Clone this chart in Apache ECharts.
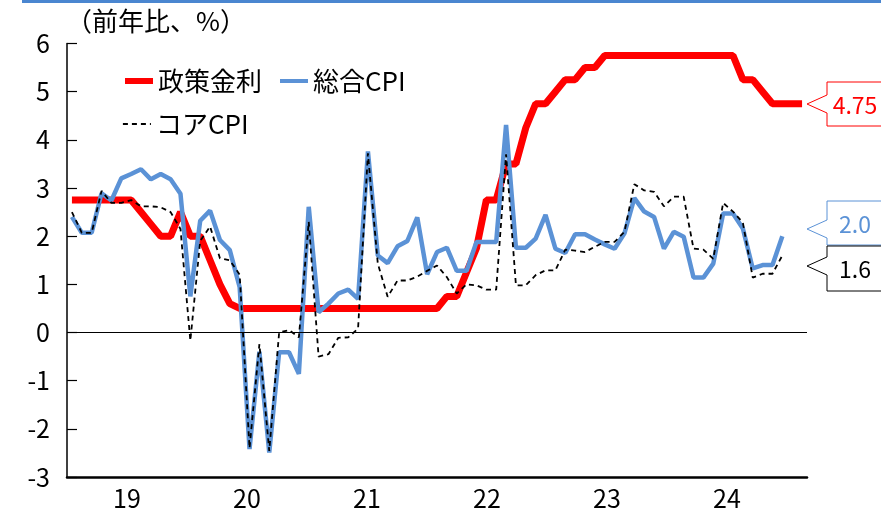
<!DOCTYPE html>
<html lang="ja">
  <head>
    <meta charset="UTF-8" />
    <title>政策金利とCPI</title>
    <script src="https://cdn.jsdelivr.net/npm/echarts@6/dist/echarts.min.js"></script>
    <style>
      body { margin: 0; background: #fff; }
    </style>
  </head>
  <body>
    <div id="main" style="width: 881px; height: 517px"></div>
    <script type="text/javascript">
      // data months: 2019-01 .. 2025-03
      const months = [];
      for (let y = 2019; y <= 2025; y++) {
        for (let m = 1; m <= 12; m++) {
          if (y === 2025 && m > 3) break;
          months.push(y + '-' + (m < 10 ? '0' + m : m));
        }
      }
      // slots used only for the year ticks / labels along the bottom
      const tickSlots = months.slice(0, 74);
      const yearLabels = ['19', '20', '21', '22', '23', '24'];

      const policyRate = [
        2.75, 2.75, 2.75, 2.75, 2.75, 2.75, 2.75, 2.5, 2.25, 2.0, 2.0, 2.5,
        2.0, 2.0, 1.5, 1.0, 0.6, 0.5, 0.5, 0.5, 0.5, 0.5, 0.5, 0.5,
        0.5, 0.5, 0.5, 0.5, 0.5, 0.5, 0.5, 0.5, 0.5, 0.5, 0.5, 0.5,
        0.5, 0.5, 0.75, 0.75, 1.25, 1.75, 2.75, 2.75, 3.5, 3.5, 4.25, 4.75,
        4.75, 5.0, 5.25, 5.25, 5.5, 5.5, 5.75, 5.75, 5.75, 5.75, 5.75, 5.75,
        5.75, 5.75, 5.75, 5.75, 5.75, 5.75, 5.75, 5.75, 5.25, 5.25, 5.0, 4.75,
        4.75, 4.75, 4.75
      ];
      const headlineCpi = [
        2.4, 2.07, 2.07, 2.89, 2.74, 3.2, 3.29, 3.39, 3.18, 3.29, 3.18, 2.88,
        0.75, 2.32, 2.53, 1.92, 1.71, 0.94, -2.42, -0.4, -2.49, -0.41, -0.41, -0.86,
        2.61, 0.42, 0.6, 0.81, 0.89, 0.7, 3.76, 1.6, 1.44, 1.79, 1.9, 2.39,
        1.21, 1.67, 1.76, 1.28, 1.28, 1.88, 1.88, 1.88, 4.31, 1.76, 1.76, 1.95,
        2.44, 1.74, 1.65, 2.04, 2.04, 1.93, 1.83, 1.74, 2.06, 2.79, 2.51, 2.4,
        1.74, 2.09, 1.99, 1.14, 1.14, 1.43, 2.47, 2.47, 2.16, 1.33, 1.4, 1.4,
        2.0
      ];
      const coreCpi = [
        2.5, 2.07, 2.07, 2.94, 2.69, 2.69, 2.75, 2.62, 2.62, 2.6, 2.5, 2.15,
        -0.17, 1.9, 2.2, 1.54, 1.5, 1.2, -2.4, -0.24, -2.46, 0.0, 0.05, -0.1,
        2.3, -0.5, -0.45, -0.11, -0.1, 0.08, 3.72, 1.43, 0.74, 1.08, 1.08, 1.16,
        1.28, 1.39, 1.15, 0.81, 1.0, 0.98, 0.89, 0.89, 3.7, 0.98, 0.98, 1.19,
        1.29, 1.29, 1.72, 1.7, 1.67, 1.78, 1.88, 1.88, 2.09, 3.08, 2.95, 2.92,
        2.62, 2.82, 2.82, 1.74, 1.72, 1.53, 2.69, 2.51, 2.28, 1.14, 1.22, 1.22,
        1.6
      ];

      const RED = '#ff0000';
      const BLUE = '#5b92d6';
      const FONT = '"Noto Sans CJK JP", "Noto Sans", sans-serif';

      // box with a left-pointing notch, like the end-value tags
      function callout(top, bottom, tipY, color, text) {
        const left = 827, tipX = 807, right = 900;
        return {
          type: 'group',
          children: [
            {
              type: 'polygon',
              shape: {
                points: [[left, top], [right, top], [right, bottom], [left, bottom],
                         [left, tipY + 9], [tipX, tipY], [left, tipY - 9]]
              },
              style: { fill: '#fff', stroke: color, lineWidth: 1 }
            },
            {
              type: 'text',
              x: 855, y: (top + bottom) / 2 + 1,
              style: {
                text: text, fill: color, font: '23px ' + FONT,
                align: 'center', verticalAlign: 'middle'
              }
            }
          ]
        };
      }

      const last = (arr) => arr[arr.length - 1];
      const legendText = { fontSize: 26, color: '#000', fontFamily: FONT };

      let myChart = echarts.init(document.getElementById('main'));

      let options = {
        animation: false,
        textStyle: { fontFamily: FONT },
        title: {
          text: '（前年比、%）',
          left: 61, top: 3,
          textStyle: { fontSize: 26, fontWeight: 'normal', color: '#000', fontFamily: FONT }
        },
        grid: { left: 67, right: 74, top: 43.5, bottom: 40 },
        legend: [
          {
            left: 117, top: 63,
            itemWidth: 28, itemHeight: 12, itemGap: 16, itemTextGap: 7,
            textStyle: legendText,
            data: [
              { name: '政策金利', lineStyle: { width: 6 }, itemStyle: { opacity: 0 } },
              { name: '総合CPI', lineStyle: { width: 4 }, itemStyle: { opacity: 0 } }
            ]
          },
          {
            left: 117, top: 106,
            itemWidth: 28, itemHeight: 12, itemTextGap: 7,
            textStyle: legendText,
            data: [{ name: 'コアCPI', lineStyle: { width: 1.8 }, itemStyle: { opacity: 0 } }]
          }
        ],
        xAxis: [
          {
            type: 'category',
            data: months,
            boundaryGap: true,
            show: false
          },
          {
            type: 'category',
            data: tickSlots,
            boundaryGap: true,
            position: 'bottom',
            axisLine: { onZero: false, lineStyle: { color: '#000', width: 2.5 } },
            axisTick: {
              inside: true, length: 10,
              interval: (idx) => idx % 12 === 0 && idx > 0,
              lineStyle: { color: '#000', width: 1.5 }
            },
            axisLabel: {
              interval: (idx) => idx % 12 === 6,
              formatter: (v, idx) => yearLabels[Math.floor(idx / 12)] || '',
              fontSize: 25, color: '#000', margin: 9,
              padding: [0, 10, 0, 0]
            },
            splitLine: { show: false }
          }
        ],
        yAxis: {
          type: 'value',
          min: -3, max: 6, interval: 1,
          axisLine: { show: true, lineStyle: { color: '#000', width: 1.5 } },
          axisTick: { show: true, inside: true, length: 10, lineStyle: { color: '#000', width: 1.2 } },
          axisLabel: { fontSize: 25, color: '#000', margin: 17 },
          splitLine: { show: false }
        },
        series: [
          {
            name: '政策金利',
            type: 'line',
            xAxisIndex: 0,
            data: policyRate,
            symbol: 'none',
            color: RED,
            lineStyle: { color: RED, width: 7 },
            markLine: {
              silent: true, symbol: 'none',
              label: { show: false },
              lineStyle: { color: '#000', width: 1, type: 'solid' },
              data: [{ yAxis: 0 }]
            }
          },
          {
            name: '総合CPI',
            type: 'line',
            xAxisIndex: 0,
            data: headlineCpi,
            symbol: 'none',
            color: BLUE,
            lineStyle: { color: BLUE, width: 4.5 }
          },
          {
            name: 'コアCPI',
            type: 'line',
            xAxisIndex: 0,
            data: coreCpi,
            symbol: 'none',
            color: '#000',
            lineStyle: { color: '#000', width: 1.8, type: [5, 4] }
          }
        ],
        graphic: [
          { type: 'rect', shape: { x: 22, y: 0, width: 870, height: 3 }, style: { fill: '#4a86d0' } },
          callout(82, 126, 104, RED, last(policyRate).toFixed(2)),
          callout(201, 245, 229, BLUE, last(headlineCpi).toFixed(1)),
          callout(246, 291, 266, '#000', last(coreCpi).toFixed(1))
        ]
      };

      myChart.setOption(options);
    </script>
  </body>
</html>
